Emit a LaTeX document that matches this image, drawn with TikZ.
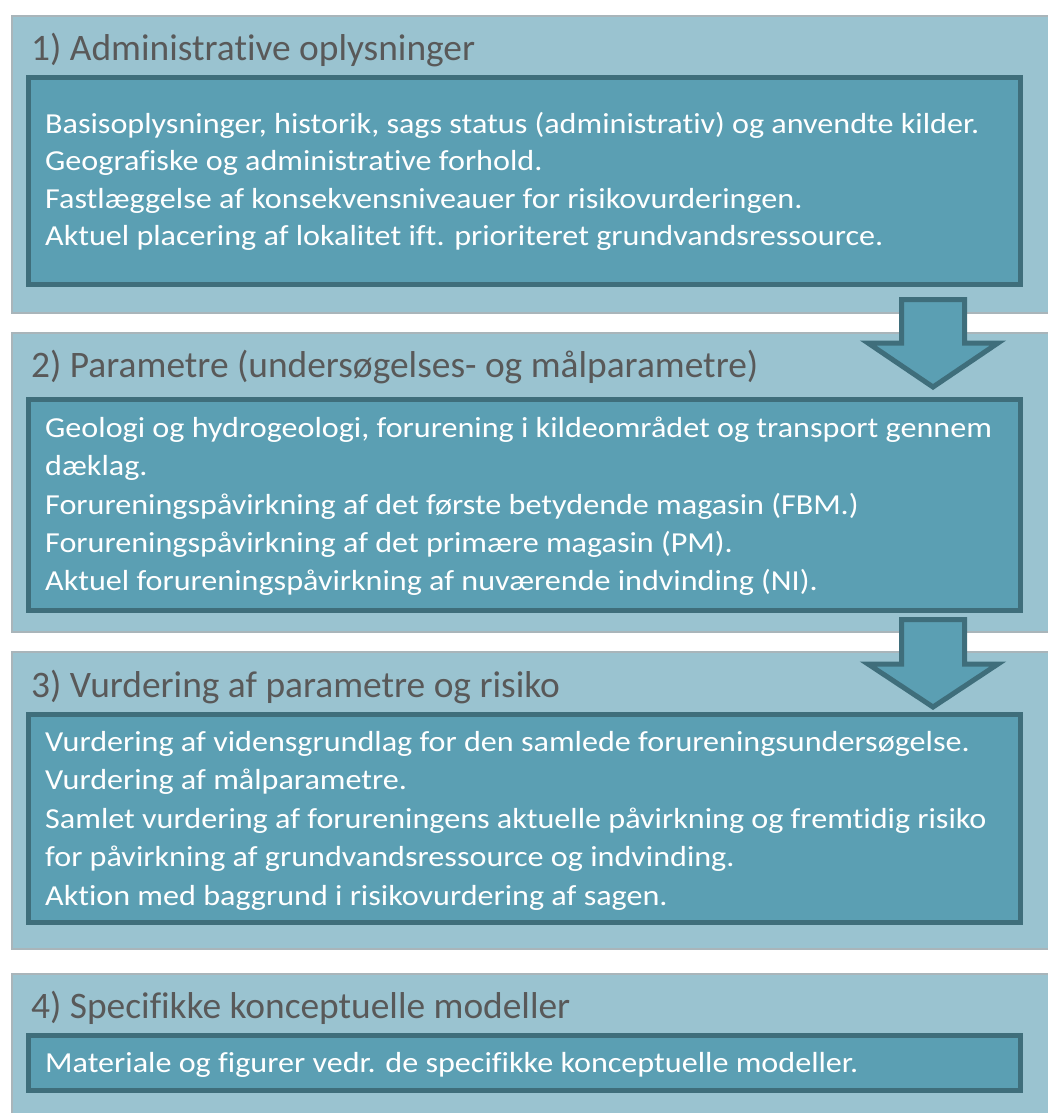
\documentclass[tikz,border=0pt]{standalone}
\usepackage{fontspec}
\setmainfont[Ligatures={NoCommon}]{Carlito}
\newfontfamily\bodyfont[FakeStretch=1.108,Ligatures={NoCommon}]{Carlito}
\definecolor{panelfill}{HTML}{9AC3D0}
\definecolor{innerfill}{HTML}{5B9FB3}
\definecolor{edgecol}{HTML}{3F6E7B}
\definecolor{titlecol}{HTML}{595959}
\definecolor{paneledge}{HTML}{A9B5BA}
\begin{document}
\begin{tikzpicture}[x=1pt,y=-1pt,
  panelbox/.style={fill=panelfill, draw=paneledge, line width=1.2pt},
  innerbox/.style={fill=innerfill, draw=edgecol, line width=5pt},
  ttl/.style={anchor=base west, inner sep=0pt, text=titlecol, font=\fontsize{37.4}{40}\selectfont},
  bodytext/.style={anchor=base west, inner sep=0pt, text=white, font=\bodyfont\fontsize{29}{31}\selectfont},
  blockarrow/.style={fill=innerfill, draw=edgecol, line width=5pt, line join=miter, miter limit=4}]
\useasboundingbox (0,0) rectangle (1048,1113);
\clip (0,0) rectangle (1048,1113);

% panels
\draw[panelbox] (12,16) rectangle (1060,313);
\draw[panelbox] (12,333) rectangle (1060,632);
\draw[panelbox] (12,652) rectangle (1060,949);
\draw[panelbox] (12,974) rectangle (1060,1125);

% inner boxes
\draw[innerbox] (28.5,77.5) rectangle (1020.5,284.5);
\draw[innerbox] (28.5,399.5) rectangle (1020.5,610.5);
\draw[innerbox] (28.5,714.5) rectangle (1020.5,922.5);
\draw[innerbox] (28.5,1035.5) rectangle (1020.5,1090.5);

% block arrows
\draw[blockarrow] (901.5,299.5) -- (964.5,299.5) -- (964.5,343) -- (998,343) -- (933,387) -- (868,343) -- (901.5,343) -- cycle;
\draw[blockarrow] (901.5,619.5) -- (964.5,619.5) -- (964.5,664) -- (998,664) -- (933,707) -- (868,664) -- (901.5,664) -- cycle;

% titles
\node[ttl] (t1) at (31,61) {1) Administrative oplysninger};
\node[ttl] (t2) at (31,377) {2) Parametre (undersøgelses- og målparametre)};
\node[ttl] (t3) at (31,697) {3) Vurdering af parametre og risiko};
\node[ttl] (t4) at (31,1018) {4) Specifikke konceptuelle modeller};

% box 1
\node[bodytext] (a1) at (45,133) {Basisoplysninger, historik, sags status (administrativ) og anvendte kilder.};
\node[bodytext] (a2) at (45,170.5) {Geografiske og administrative forhold.};
\node[bodytext] (a3) at (45,208) {Fastlæggelse af konsekvensniveauer for risikovurderingen.};
\node[bodytext] (a4) at (45,245.5) {Aktuel placering af lokalitet ift. prioriteret grundvandsressource.};

% box 2
\node[bodytext] (b1) at (45,437) {Geologi og hydrogeologi, forurening i kildeområdet og transport gennem};
\node[bodytext] (b2) at (45,475.5) {dæklag.};
\node[bodytext] (b3) at (45,514) {Forureningspåvirkning af det første betydende magasin (FBM.)};
\node[bodytext] (b4) at (45,552) {Forureningspåvirkning af det primære magasin (PM).};
\node[bodytext] (b5) at (45,590) {Aktuel forureningspåvirkning af nuværende indvinding (NI).};

% box 3
\node[bodytext] (c1) at (45,751) {Vurdering af vidensgrundlag for den samlede forureningsundersøgelse.};
\node[bodytext] (c2) at (45,789.5) {Vurdering af målparametre.};
\node[bodytext] (c3) at (45,828) {Samlet vurdering af forureningens aktuelle påvirkning og fremtidig risiko};
\node[bodytext] (c4) at (45,866.5) {for påvirkning af grundvandsressource og indvinding.};
\node[bodytext] (c5) at (45,905) {Aktion med baggrund i risikovurdering af sagen.};

% box 4
\node[bodytext] (d1) at (45,1072) {Materiale og figurer vedr. de specifikke konceptuelle modeller.};
\end{tikzpicture}
\end{document}
